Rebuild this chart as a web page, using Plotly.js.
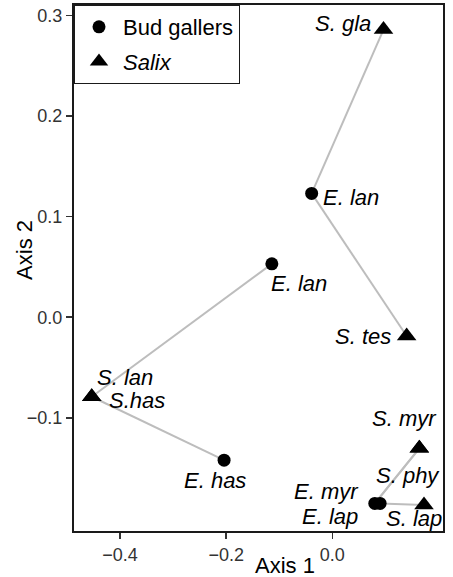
<!DOCTYPE html>
<html>
<head>
<meta charset="utf-8">
<script src="https://cdn.plot.ly/plotly-3.0.1.min.js"></script>
<style>html,body{margin:0;padding:0;background:#fff;}#chart{width:453px;height:577px;}</style>
</head>
<body>
<div id="chart"></div>
<script>
// ---- data ----
var gallerNames = ['E. lan', 'E. lan', 'E. has', 'E. myr', 'E. lap'];
var gallerX = [-0.039, -0.114, -0.204, 0.080, 0.090];
var gallerY = [0.123, 0.053, -0.142, -0.185, -0.185];

var salixNames = ['S. gla', 'S. tes', 'S. lan', 'S.has', 'S. myr', 'S. phy', 'S. lap'];
var salixX = [0.0964, 0.140, -0.4534, -0.4534, 0.1639, 0.1639, 0.1727];
var salixY = [0.2858, -0.0187, -0.079, -0.079, -0.1303, -0.1303, -0.1866];

// links: [galler index, salix index]
var links = [[0, 0], [0, 1], [1, 2], [2, 3], [3, 4], [3, 5], [4, 6]];

var xTicks = [-0.4, -0.2, 0.0];
var xTickText = ['\u22120.4', '\u22120.2', '0.0'];
var yTicks = [-0.1, 0.0, 0.1, 0.2, 0.3];
var yTickText = ['\u22120.1', '0.0', '0.1', '0.2', '0.3'];

// ---- label placement (style: pixel offsets) ----
var gallerLabelStyle = [
  {xa: 'left', dx: 9, dy: -4},
  {xa: 'left', dx: -3, dy: -20},
  {xa: 'center', dx: -9, dy: -20},
  {xa: 'right', dx: -14, dy: 12},
  {xa: 'right', dx: -20, dy: -13}
];
var salixLabelStyle = [
  {xa: 'right', dx: -11, dy: 6},
  {xa: 'right', dx: -14, dy: 0},
  {xa: 'left', dx: 3, dy: 19},
  {xa: 'left', dx: 15, dy: -4},
  {xa: 'center', dx: -15, dy: 30},
  {xa: 'center', dx: -11, dy: -27},
  {xa: 'center', dx: -10, dy: -13}
];

var FONT = 'Liberation Sans, Arial, Helvetica, sans-serif';

var lx = [], ly = [];
links.forEach(function (l) {
  lx.push(gallerX[l[0]], salixX[l[1]], null);
  ly.push(gallerY[l[0]], salixY[l[1]], null);
});

var traces = [
  {x: lx, y: ly, mode: 'lines', type: 'scatter', showlegend: false, hoverinfo: 'skip',
   line: {color: '#bdbdbd', width: 2}},
  {x: gallerX, y: gallerY, mode: 'markers', type: 'scatter', name: 'Bud gallers',
   legendgroup: 'a', marker: {symbol: 'circle', size: 13, color: '#000'}},
  {x: salixX, y: salixY, mode: 'markers', type: 'scatter', name: '<i>Salix</i>',
   legendgroup: 'b', marker: {symbol: 'triangle-up', size: 17, color: '#000'}}
];

var annotations = [];
gallerNames.forEach(function (n, i) {
  var s = gallerLabelStyle[i];
  annotations.push({x: gallerX[i], y: gallerY[i], xref: 'x', yref: 'y', text: '<i>' + n + '</i>',
    showarrow: false, xanchor: s.xa, yanchor: 'middle', xshift: s.dx, yshift: s.dy,
    font: {family: FONT, size: 22, color: '#000'}});
});
salixNames.forEach(function (n, i) {
  var s = salixLabelStyle[i];
  annotations.push({x: salixX[i], y: salixY[i], xref: 'x', yref: 'y', text: '<i>' + n + '</i>',
    showarrow: false, xanchor: s.xa, yanchor: 'middle', xshift: s.dx, yshift: s.dy,
    font: {family: FONT, size: 22, color: '#000'}});
});
annotations.push({xref: 'paper', yref: 'paper', x: 0.572, y: -0.065, text: 'Axis 1', showarrow: false,
  xanchor: 'center', yanchor: 'middle', font: {family: FONT, size: 22, color: '#000'}});
annotations.push({xref: 'paper', yref: 'paper', x: -0.136, y: 0.534, text: 'Axis 2', showarrow: false,
  textangle: -90, xanchor: 'center', yanchor: 'middle', font: {family: FONT, size: 22, color: '#000'}});

var layout = {
  width: 453, height: 577,
  margin: {l: 74, r: 10, t: 5, b: 46},
  paper_bgcolor: '#fff', plot_bgcolor: '#fff',
  font: {family: FONT, color: '#000'},
  showlegend: true,
  legend: {x: 0, y: 1, xanchor: 'left', yanchor: 'top', bgcolor: '#fff', bordercolor: '#1a1a1a',
    borderwidth: 1, font: {family: FONT, size: 22, color: '#000'}, traceorder: 'grouped',
    tracegroupgap: 3, itemwidth: 38},
  xaxis: {range: [-0.4868, 0.2085], tickvals: xTicks, ticktext: xTickText, showgrid: false, zeroline: false,
    showline: true, mirror: true, linecolor: '#1a1a1a', linewidth: 2, ticks: 'outside', ticklen: 6,
    tickwidth: 1.5, tickcolor: '#333', tickfont: {family: FONT, size: 18, color: '#333'}},
  yaxis: {range: [-0.2124, 0.3102], tickvals: yTicks, ticktext: yTickText, showgrid: false, zeroline: false,
    showline: true, mirror: true, linecolor: '#1a1a1a', linewidth: 2, ticks: 'outside', ticklen: 6,
    tickwidth: 1.5, tickcolor: '#333', tickfont: {family: FONT, size: 18, color: '#333'}},
  annotations: annotations
};

Plotly.newPlot('chart', traces, layout, {displayModeBar: false, staticPlot: true});
</script>
</body>
</html>
